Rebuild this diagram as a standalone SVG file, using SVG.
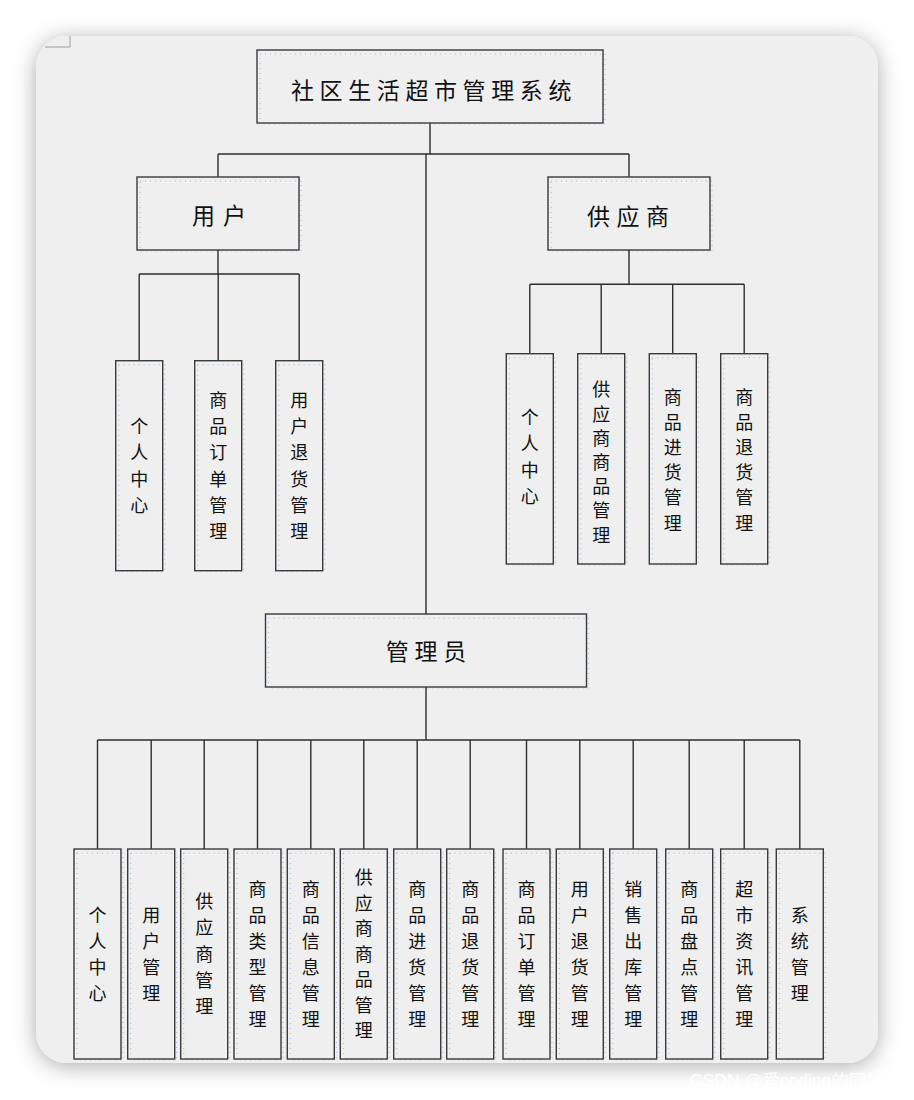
<svg xmlns="http://www.w3.org/2000/svg" width="914" height="1100" viewBox="0 0 914 1100">
<defs>
<filter id="shadow" x="-10%" y="-10%" width="120%" height="120%">
<feDropShadow dx="0" dy="3" stdDeviation="11" flood-color="#000" flood-opacity="0.33"/>
</filter>
<style>
.box{fill:#efefef;stroke:#3a3a3a;stroke-width:1.4}
.dot{fill:none;stroke:#4a8fe0;stroke-width:1;stroke-dasharray:1 4;opacity:0.55}
.conn{fill:none;stroke:#2e2e2e;stroke-width:1.4}
.big{font-family:"Noto Sans CJK SC",sans-serif;font-size:23px;fill:#111;text-anchor:middle}
.v{font-family:"Noto Sans CJK SC",sans-serif;font-size:18px;fill:#111;text-anchor:middle}
.wm{font-family:"Liberation Sans","Noto Sans CJK SC",sans-serif;font-size:17.5px;fill:#ffffff;opacity:0.95}
</style>
</defs>
<rect width="914" height="1100" fill="#ffffff"/>
<rect x="36" y="36" width="842" height="1027" rx="31" ry="31" fill="#efefef" filter="url(#shadow)"/>
<path d="M45,47 H70 V36" fill="none" stroke="#9a9a9a" stroke-width="1"/>

<g id="connectors">
<path class="conn" d="M430,123 V154 M218,154 H629 M218,154 V177 M629,154 V177 M426,154 V614"/>
<path class="conn" d="M218,250 V274 M139.2,274 H299.2 M139.2,274 V360.7 M218.2,274 V360.7 M299.2,274 V360.7"/>
<path class="conn" d="M629,250 V284.3 M529.8,284.3 H744.2 M529.8,284.3 V353.7 M601.2,284.3 V353.7 M672.7,284.3 V353.7 M744.2,284.3 V353.7"/>
<path class="conn" d="M426,687 V740 M97.5,740 H799.8 M97.5,740 V849 M151.2,740 V849 M204.2,740 V849 M257.5,740 V849 M310.8,740 V849 M363.8,740 V849 M417.2,740 V849 M470.2,740 V849 M526.5,740 V849 M579.8,740 V849 M633.2,740 V849 M689.2,740 V849 M744.2,740 V849 M799.8,740 V849"/>
</g>

<g id="root">
<rect class="box" x="257" y="50" width="346" height="73"/>
<rect class="dot" x="260" y="54" width="345" height="70"/>
<text class="big" x="302.5 331.1 359.7 388.3 416.9 445.5 474.1 502.7 531.3 559.9" y="98.5">社区生活超市管理系统</text>
</g>

<g id="user">
<rect class="box" x="137" y="177" width="162" height="73"/>
<rect class="dot" x="140" y="181" width="161" height="70"/>
<text class="big" x="203.5 234.5" y="224">用户</text>
</g>

<g id="supplier">
<rect class="box" x="548" y="177" width="162" height="73"/>
<rect class="dot" x="551" y="181" width="161" height="70"/>
<text class="big" x="598.5 628 657.5" y="225">供应商</text>
</g>

<g id="admin">
<rect class="box" x="265.5" y="614" width="321" height="73"/>
<rect class="dot" x="268.5" y="618" width="320" height="70"/>
<text class="big" x="397.3 426 454.8" y="660">管理员</text>
</g>

<!-- user children -->
<g id="u1">
<rect class="box" x="115.7" y="360.7" width="47" height="210"/>
<rect class="dot" x="118.7" y="364.7" width="46" height="207"/>
<text class="v" x="139.2 139.2 139.2 139.2" y="432.5 459 485.5 512">个人中心</text>
</g>
<g id="u2">
<rect class="box" x="194.7" y="360.7" width="47" height="210"/>
<rect class="dot" x="197.7" y="364.7" width="46" height="207"/>
<text class="v" x="218.2 218.2 218.2 218.2 218.2 218.2" y="407 433.2 459.4 485.6 511.8 538">商品订单管理</text>
</g>
<g id="u3">
<rect class="box" x="275.7" y="360.7" width="47" height="210"/>
<rect class="dot" x="278.7" y="364.7" width="46" height="207"/>
<text class="v" x="299.2 299.2 299.2 299.2 299.2 299.2" y="407 433.2 459.4 485.6 511.8 538">用户退货管理</text>
</g>

<!-- supplier children -->
<g id="s1">
<rect class="box" x="506.3" y="353.7" width="47" height="210.3"/>
<rect class="dot" x="509.3" y="357.7" width="46" height="207.3"/>
<text class="v" x="529.8 529.8 529.8 529.8" y="423.75 450.25 476.75 503.25">个人中心</text>
</g>
<g id="s2">
<rect class="box" x="577.7" y="353.7" width="47" height="210.3"/>
<rect class="dot" x="580.7" y="357.7" width="46" height="207.3"/>
<text class="v" x="601.2 601.2 601.2 601.2 601.2 601.2 601.2" y="396.4 420.6 444.8 469 493.2 517.4 541.6">供应商商品管理</text>
</g>
<g id="s3">
<rect class="box" x="649.3" y="353.7" width="47" height="210.3"/>
<rect class="dot" x="652.3" y="357.7" width="46" height="207.3"/>
<text class="v" x="672.7 672.7 672.7 672.7 672.7 672.7" y="403.5 428.7 453.9 479.1 504.3 529.5">商品进货管理</text>
</g>
<g id="s4">
<rect class="box" x="720.7" y="353.7" width="47" height="210.3"/>
<rect class="dot" x="723.7" y="357.7" width="46" height="207.3"/>
<text class="v" x="744.2 744.2 744.2 744.2 744.2 744.2" y="403.5 428.7 453.9 479.1 504.3 529.5">商品退货管理</text>
</g>

<!-- admin children -->
<g id="a1">
<rect class="box" x="74" y="849" width="47" height="210"/>
<rect class="dot" x="77" y="853" width="46" height="207"/>
<text class="v" x="97.5 97.5 97.5 97.5" y="921.5 947.5 973.5 999.5">个人中心</text>
</g>
<g id="a2">
<rect class="box" x="127.7" y="849" width="47" height="210"/>
<rect class="dot" x="130.7" y="853" width="46" height="207"/>
<text class="v" x="151.2 151.2 151.2 151.2" y="921.5 947.5 973.5 999.5">用户管理</text>
</g>
<g id="a3">
<rect class="box" x="180.7" y="849" width="47" height="210"/>
<rect class="dot" x="183.7" y="853" width="46" height="207"/>
<text class="v" x="204.2 204.2 204.2 204.2 204.2" y="908 934.25 960.5 986.75 1013">供应商管理</text>
</g>
<g id="a4">
<rect class="box" x="234" y="849" width="47" height="210"/>
<rect class="dot" x="237" y="853" width="46" height="207"/>
<text class="v" x="257.5 257.5 257.5 257.5 257.5 257.5" y="895.5 921.5 947.5 973.5 999.5 1025.5">商品类型管理</text>
</g>
<g id="a5">
<rect class="box" x="287.3" y="849" width="47" height="210"/>
<rect class="dot" x="290.3" y="853" width="46" height="207"/>
<text class="v" x="310.8 310.8 310.8 310.8 310.8 310.8" y="895.5 921.5 947.5 973.5 999.5 1025.5">商品信息管理</text>
</g>
<g id="a6">
<rect class="box" x="340.3" y="849" width="47" height="210"/>
<rect class="dot" x="343.3" y="853" width="46" height="207"/>
<text class="v" x="363.8 363.8 363.8 363.8 363.8 363.8 363.8" y="884 909.5 935 960.5 986 1011.5 1037">供应商商品管理</text>
</g>
<g id="a7">
<rect class="box" x="393.7" y="849" width="47" height="210"/>
<rect class="dot" x="396.7" y="853" width="46" height="207"/>
<text class="v" x="417.2 417.2 417.2 417.2 417.2 417.2" y="895.5 921.5 947.5 973.5 999.5 1025.5">商品进货管理</text>
</g>
<g id="a8">
<rect class="box" x="446.7" y="849" width="47" height="210"/>
<rect class="dot" x="449.7" y="853" width="46" height="207"/>
<text class="v" x="470.2 470.2 470.2 470.2 470.2 470.2" y="895.5 921.5 947.5 973.5 999.5 1025.5">商品退货管理</text>
</g>
<g id="a9">
<rect class="box" x="503" y="849" width="47" height="210"/>
<rect class="dot" x="506" y="853" width="46" height="207"/>
<text class="v" x="526.5 526.5 526.5 526.5 526.5 526.5" y="895.5 921.5 947.5 973.5 999.5 1025.5">商品订单管理</text>
</g>
<g id="a10">
<rect class="box" x="556.3" y="849" width="47" height="210"/>
<rect class="dot" x="559.3" y="853" width="46" height="207"/>
<text class="v" x="579.8 579.8 579.8 579.8 579.8 579.8" y="895.5 921.5 947.5 973.5 999.5 1025.5">用户退货管理</text>
</g>
<g id="a11">
<rect class="box" x="609.7" y="849" width="47" height="210"/>
<rect class="dot" x="612.7" y="853" width="46" height="207"/>
<text class="v" x="633.2 633.2 633.2 633.2 633.2 633.2" y="895.5 921.5 947.5 973.5 999.5 1025.5">销售出库管理</text>
</g>
<g id="a12">
<rect class="box" x="665.7" y="849" width="47" height="210"/>
<rect class="dot" x="668.7" y="853" width="46" height="207"/>
<text class="v" x="689.2 689.2 689.2 689.2 689.2 689.2" y="895.5 921.5 947.5 973.5 999.5 1025.5">商品盘点管理</text>
</g>
<g id="a13">
<rect class="box" x="720.7" y="849" width="47" height="210"/>
<rect class="dot" x="723.7" y="853" width="46" height="207"/>
<text class="v" x="744.2 744.2 744.2 744.2 744.2 744.2" y="895.5 921.5 947.5 973.5 999.5 1025.5">超市资讯管理</text>
</g>
<g id="a14">
<rect class="box" x="776.3" y="849" width="47" height="210"/>
<rect class="dot" x="779.3" y="853" width="46" height="207"/>
<text class="v" x="799.8 799.8 799.8 799.8" y="921.5 947.5 973.5 999.5">系统管理</text>
</g>

<text class="wm" x="690" y="1087">CSDN @爱coding的同学</text>
</svg>
